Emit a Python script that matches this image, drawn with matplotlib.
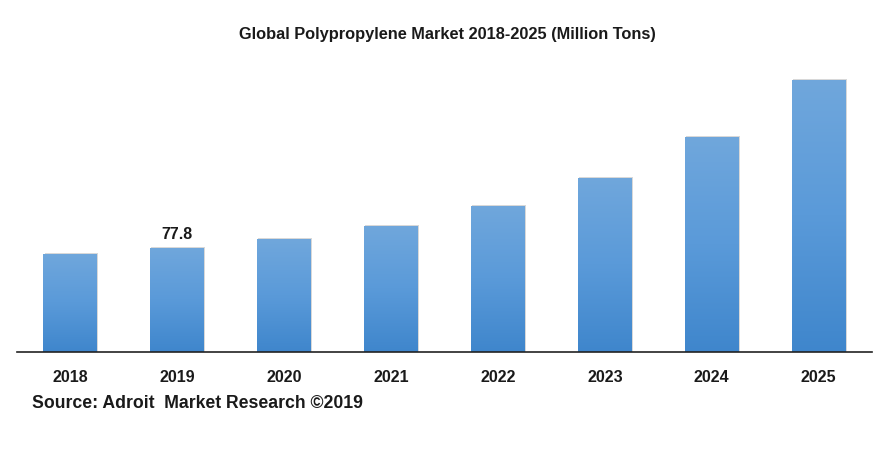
import numpy as np
import matplotlib
matplotlib.use("Agg")
import matplotlib.pyplot as plt
from matplotlib.patches import Rectangle

years = ["2018", "2019", "2020", "2021", "2022", "2023", "2024", "2025"]
volumes = [73.3, 77.8, 84.5, 94.3, 109.2, 130.2, 160.8, 203.5]
labelled = {"2019": "77.8"}

plt.rcParams["font.family"] = ["Liberation Sans", "DejaVu Sans"]

fig = plt.figure(figsize=(8.94, 4.49), dpi=100)
ax = fig.add_axes([17 / 894, 1 - 352 / 449, 855 / 894, 292 / 449])
ax.set_xlim(-0.5, len(years) - 0.5)
ax.set_ylim(0, 218.4)

# vertical gradient, lighter at the top
grad = np.linspace(0, 1, 256).reshape(-1, 1)
cmap = matplotlib.colors.LinearSegmentedColormap.from_list(
    "bar", ["#3f86cc", "#5a9ad9", "#70a7dc"])

x = np.arange(len(years))
w = 0.505
for xi, v in zip(x, volumes):
    # soft shadow
    ax.add_patch(Rectangle((xi - w / 2 + 0.01, 0), w, v + 0.5,
                           facecolor="#d8d8d8", edgecolor="none", zorder=1))
    im = ax.imshow(grad, cmap=cmap, origin="lower", aspect="auto",
                   extent=(xi - w / 2, xi + w / 2, 0, v), zorder=2)
    clip = Rectangle((xi - w / 2, 0), w, v, transform=ax.transData)
    im.set_clip_path(clip)

for yr, xi, v in zip(years, x, volumes):
    if yr in labelled:
        ax.text(xi, v + 4.5, labelled[yr], ha="center", va="bottom",
                fontsize=11.5, fontweight="bold", color="#1a1a1a")

ax.set_xlim(-0.5, len(years) - 0.5)
ax.set_ylim(0, 218.4)
ax.set_xticks(x)
ax.set_xticklabels(years, fontsize=11.5, fontweight="bold", color="#1a1a1a")
ax.tick_params(axis="x", length=0, pad=13)
ax.set_yticks([])
for s in ["top", "right", "left"]:
    ax.spines[s].set_visible(False)
ax.spines["bottom"].set_color("#222222")
ax.spines["bottom"].set_linewidth(1.2)
ax.spines["bottom"].set_zorder(3)

fig.text(0.5, 1 - 35 / 449, "Global Polypropylene Market 2018-2025 (Million Tons)",
         ha="center", va="center", fontsize=11.8, fontweight="bold", color="#1a1a1a")
fig.text(32 / 894, 1 - 404 / 449, "Source: Adroit  Market Research \u00a92019",
         ha="left", va="center", fontsize=12.7, fontweight="bold", color="#1a1a1a")

fig.savefig("out.png", dpi=100)
